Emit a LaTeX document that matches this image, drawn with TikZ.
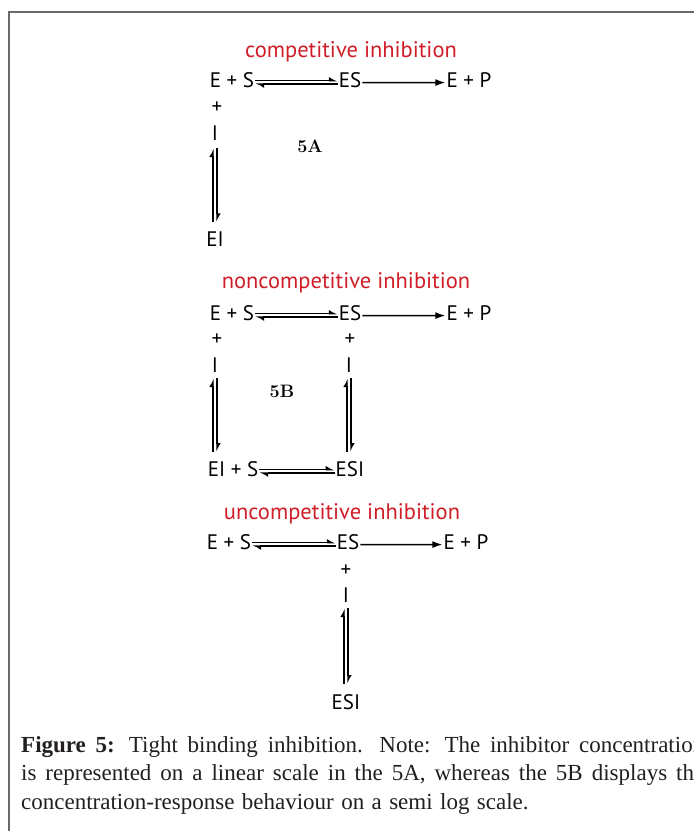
\documentclass[tikz,border=0pt]{standalone}
\usepackage{fontspec}
\setmainfont{Liberation Serif}
\setsansfont{PT Sans}
\newfontfamily\panelfont{Latin Modern Roman}
\usetikzlibrary{arrows.meta}
\definecolor{titlered}{RGB}{208,30,40}
\definecolor{framegray}{RGB}{105,105,105}
\definecolor{captext}{RGB}{35,31,32}
\newcommand\capfont{\fontsize{23}{28}\selectfont\spaceskip=7.4pt plus 4pt minus 1pt\relax}
\tikzset{
  chem/.style={font=\sffamily\fontsize{21}{24}\selectfont, inner sep=1pt, anchor=base},
  heading/.style={font=\sffamily\fontsize{22.5}{26}\selectfont, text=titlered, inner sep=0pt, anchor=base},
  panel/.style={font=\panelfont\bfseries\fontsize{18}{21}\selectfont, inner sep=0pt, anchor=base},
  eqhalf/.style={line width=1.4pt, -{Latex[left,length=7pt,width=8pt]}},
  react/.style={line width=1.4pt, -{Latex[length=10pt,width=7pt]}},
  capline/.style={font=\capfont, text=captext, inner sep=0pt, anchor=base west}
}

\begin{document}
\begin{tikzpicture}[x=1pt,y=-1pt]
\useasboundingbox (0,0) rectangle (694,831);
\clip (0,0) rectangle (694,831);
\draw[framegray, line width=1.5pt] (9,12) rectangle (720,860);

\node[heading] (titleA) at (351,57) {competitive inhibition};
\node[chem] (esA) at (232,87) {E + S};
\node[chem] (cxA) at (350,87) {ES};
\node[chem] (prA) at (469,87) {E + P};
\node[chem] (plusA) at (217,113) {+};
\node[chem] (inhA) at (215,140) {I};
\node[chem] (eiA) at (215,246) {EI};
\node[panel] (lblA) at (310,152) {5A};
\draw[eqhalf] ([yshift=-1pt]esA.east) -- ([yshift=-1pt]cxA.west);
\draw[eqhalf] ([yshift=-4.5pt]cxA.west) -- ([yshift=-4.5pt]esA.east);
\draw[react] ([yshift=-3pt]cxA.east) -- ([yshift=-3pt]prA.west);
\draw[eqhalf, shorten <=8pt, shorten >=7pt] ([xshift=-2pt]eiA.north) -- ([xshift=-2pt]inhA.south);
\draw[eqhalf, shorten <=7pt, shorten >=8pt] ([xshift=2pt]inhA.south) -- ([xshift=2pt]eiA.north);

\node[heading] (titleB) at (346,288) {noncompetitive inhibition};
\node[chem] (esB) at (232,320) {E + S};
\node[chem] (cxB) at (350,320) {ES};
\node[chem] (prB) at (469,320) {E + P};
\node[chem] (plusB) at (217,345) {+};
\node[chem] (inhB) at (215,372) {I};
\node[chem] (plusBr) at (350,345) {+};
\node[chem] (inhBr) at (349,372) {I};
\node[chem] (eisB) at (233,476) {EI + S};
\node[chem] (esiB) at (350,476) {ESI};
\node[panel] (lblB) at (282,397) {5B};
\draw[eqhalf] ([yshift=-1pt]esB.east) -- ([yshift=-1pt]cxB.west);
\draw[eqhalf] ([yshift=-4.5pt]cxB.west) -- ([yshift=-4.5pt]esB.east);
\draw[react] ([yshift=-3pt]cxB.east) -- ([yshift=-3pt]prB.west);
\draw[eqhalf] ([yshift=-1pt]eisB.east) -- ([yshift=-1pt]esiB.west);
\draw[eqhalf] ([yshift=-4.5pt]esiB.west) -- ([yshift=-4.5pt]eisB.east);
\draw[eqhalf, shorten <=8pt, shorten >=5pt] ([xshift=-2pt]eisB.north -| inhB) -- ([xshift=-2pt]inhB.south);
\draw[eqhalf, shorten <=5pt, shorten >=8pt] ([xshift=2pt]inhB.south) -- ([xshift=2pt]eisB.north -| inhB);
\draw[eqhalf, shorten <=8pt, shorten >=5pt] ([xshift=-2pt]esiB.north -| inhBr) -- ([xshift=-2pt]inhBr.south);
\draw[eqhalf, shorten <=5pt, shorten >=8pt] ([xshift=2pt]inhBr.south) -- ([xshift=2pt]esiB.north -| inhBr);

\node[heading] (titleC) at (342,519) {uncompetitive inhibition};
\node[chem] (esC) at (229,549) {E + S};
\node[chem] (cxC) at (348,549) {ES};
\node[chem] (prC) at (466,549) {E + P};
\node[chem] (plusC) at (346,576) {+};
\node[chem] (inhC) at (346,602) {I};
\node[chem] (esiC) at (346,709) {ESI};
\draw[eqhalf] ([yshift=-1pt]esC.east) -- ([yshift=-1pt]cxC.west);
\draw[eqhalf] ([yshift=-4.5pt]cxC.west) -- ([yshift=-4.5pt]esC.east);
\draw[react] ([yshift=-3pt]cxC.east) -- ([yshift=-3pt]prC.west);
\draw[eqhalf, shorten <=9pt, shorten >=5pt] ([xshift=-2pt]esiC.north) -- ([xshift=-2pt]inhC.south);
\draw[eqhalf, shorten <=5pt, shorten >=9pt] ([xshift=2pt]inhC.south) -- ([xshift=2pt]esiC.north);

\node[capline] (cap1) at (21,752) {\hbox to 683pt{\textbf{Figure 5:} Tight binding inhibition. Note: The inhibitor concentration}};
\node[capline] (cap2) at (21,780.5) {\hbox to 683pt{is represented on a linear scale in the 5A, whereas the 5B displays the}};
\node[capline] (cap3) at (21,809) {concentration-response behaviour on a semi log scale.};
\end{tikzpicture}
\end{document}
